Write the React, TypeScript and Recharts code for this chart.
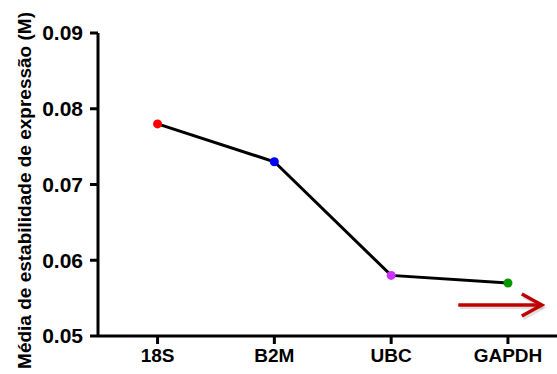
import React from 'react';
import { LineChart, Line, XAxis, YAxis, ReferenceLine } from 'recharts';

const genes = ['18S', 'B2M', 'UBC', 'GAPDH'];
const stability = [0.078, 0.073, 0.058, 0.057];
const yTicks = [0.05, 0.06, 0.07, 0.08, 0.09];
const geneIndex = [0, 1, 2, 3];

const DOT_COLORS = ['#ff0000', '#0000ff', '#cc33ff', '#009900'];
const FONT = '"Liberation Sans", Arial, sans-serif';

const chartData = genes.map((g, i) => ({ idx: geneIndex[i], gene: g, value: stability[i] }));

function renderDot(props: any) {
  const { cx, cy, index } = props;
  return <circle key={`dot-${index}`} cx={cx} cy={cy} r={4.5} fill={DOT_COLORS[index % DOT_COLORS.length]} stroke="none" />;
}

function Arrow(props: any) {
  const { x1, y1, x2, y2 } = props;
  return (
    <g>
      <g transform="translate(1.5,2.5)" stroke="#000" strokeOpacity={0.12} strokeWidth={3.5} fill="none">
        <line x1={x1} y1={y1} x2={x2} y2={y2} />
        <polyline points={`${x2 - 20},${y2 - 11} ${x2},${y2} ${x2 - 20},${y2 + 11}`} />
      </g>
      <line x1={x1} y1={y1} x2={x2 - 2} y2={y2} stroke="#c00000" strokeWidth={3.5} />
      <polyline
        points={`${x2 - 20},${y2 - 11} ${x2},${y2} ${x2 - 20},${y2 + 11}`}
        fill="none"
        stroke="#c00000"
        strokeWidth={3.5}
        strokeLinejoin="miter"
      />
    </g>
  );
}

function YLabel(props: any) {
  const { viewBox } = props;
  const cx = viewBox.x + 24;
  const cy = viewBox.y + viewBox.height / 2 + 6;
  return (
    <text
      x={cx}
      y={cy}
      transform={`rotate(-90 ${cx} ${cy})`}
      textAnchor="middle"
      dominantBaseline="central"
      fontFamily={FONT}
      fontWeight="bold"
      fontSize={19}
      fill="#000"
    >
      Média de estabilidade de expressão (M)
    </text>
  );
}

function App() {
  return (
    <div style={{ position: 'absolute', left: 0, top: 0, width: 557, height: 374, overflow: 'hidden', background: '#fff' }}>
      <LineChart width={557} height={374} data={chartData} margin={{ top: 33, right: 0, bottom: 0, left: 0 }}>
        <XAxis
          dataKey="idx"
          type="number"
          domain={[-0.51, 3.42]}
          allowDataOverflow
          ticks={geneIndex}
          tickFormatter={(v: number) => genes[v]}
          height={38}
          tickSize={8}
          tickMargin={5}
          stroke="#000"
          strokeWidth={3}
          tick={{ fill: '#000', fontSize: 19, fontWeight: 'bold', fontFamily: FONT }}
        />
        <YAxis
          dataKey="value"
          type="number"
          domain={[0.05, 0.09]}
          ticks={yTicks}
          tickFormatter={(v: number) => v.toFixed(2)}
          width={98}
          tickSize={8}
          tickMargin={7}
          stroke="#000"
          strokeWidth={3}
          tick={{ fill: '#000', fontSize: 21, fontWeight: 'bold', fontFamily: FONT }}
          label={{ content: YLabel }}
        />
        <ReferenceLine
          segment={[{ x: 2.575, y: 0.0541 }, { x: 3.29, y: 0.0541 }]}
          ifOverflow="visible"
          shape={Arrow}
        />
        <Line
          type="linear"
          dataKey="value"
          stroke="#000"
          strokeWidth={3}
          dot={renderDot}
          activeDot={false}
          isAnimationActive={false}
        />
      </LineChart>
    </div>
  );
}

export default App;
